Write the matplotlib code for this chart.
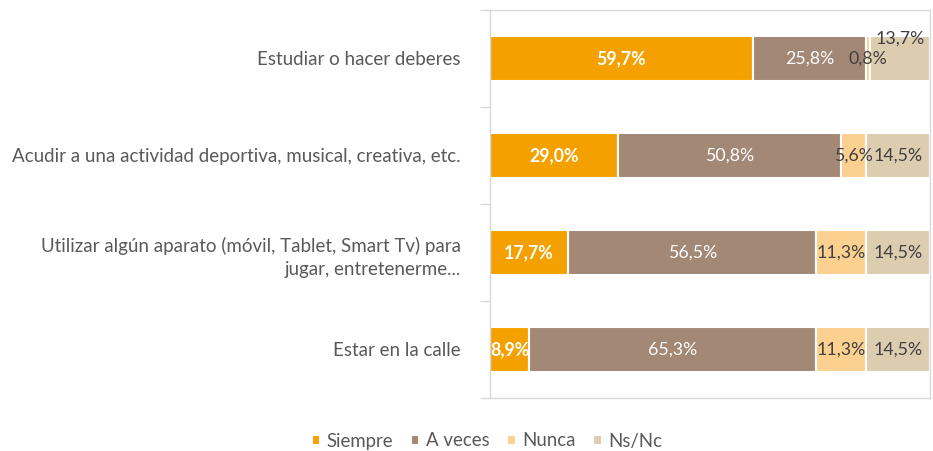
import matplotlib.pyplot as plt
import numpy as np

plt.rcParams['font.family'] = ['Lato', 'DejaVu Sans']

# datos de la encuesta (%)
categorias = [
    "Estudiar o hacer deberes",
    "Acudir a una actividad deportiva, musical, creativa, etc.",
    "Utilizar algún aparato (móvil, Tablet, Smart Tv) para\njugar, entretenerme...",
    "Estar en la calle",
]
series = ["Siempre", "A veces", "Nunca", "Ns/Nc"]
siempre = [59.7, 29.0, 17.7, 8.9]
a_veces = [25.8, 50.8, 56.5, 65.3]
nunca = [0.8, 5.6, 11.3, 11.3]
ns_nc = [13.7, 14.5, 14.5, 14.5]

colores = ["#F4A100", "#A38876", "#FCD08F", "#DDCDB0"]
color_texto = ["white", "white", "#404040", "#404040"]
negrita = ["bold", "normal", "normal", "normal"]

fig = plt.figure(figsize=(9.33, 4.51), dpi=100)
ax = fig.add_axes([490 / 933, 1 - 398 / 451, 440 / 933, 388 / 451])

y = np.arange(len(categorias))
izq = np.zeros(len(categorias))
for nombre, vals, col, ct, fw in zip(series, [siempre, a_veces, nunca, ns_nc],
                                     colores, color_texto, negrita):
    vals = np.array(vals)
    ax.barh(y, vals, left=izq, height=0.47, color=col,
            edgecolor="white", linewidth=1.5, label=nombre)
    for i, v in enumerate(vals):
        cx = izq[i] + v / 2
        cy = y[i]
        # etiqueta desplazada para que no se pise con la de 0,8%
        if nombre == "Ns/Nc" and i == 0:
            cy = y[i] - 0.21
        ax.text(cx, cy, f"{v:.1f}%".replace(".", ","), ha="center", va="center",
                color=ct, fontweight=fw, fontsize=12.8)
    izq += vals

ax.set_xlim(0, 100)
ax.set_ylim(3.5, -0.5)
ax.set_yticks(y)
ax.set_yticklabels(categorias, fontsize=13.5, color="#595959", linespacing=1.45)
ax.tick_params(axis="y", which="major", length=0, pad=21)
ax.set_yticks(np.arange(-0.5, 4, 1), minor=True)
ax.tick_params(axis="y", which="minor", length=7, color="#D9D9D9", width=1)
ax.set_xticks([])
for lado in ax.spines.values():
    lado.set_color("#D9D9D9")
    lado.set_linewidth(1)

fig.legend(loc="center", bbox_to_anchor=(487 / 933, 1 - 441 / 451), ncol=4,
           frameon=False, fontsize=13.4, handlelength=0.45, handleheight=0.45,
           columnspacing=0.95, handletextpad=0.35, labelcolor="#595959")

fig.savefig("out.png", dpi=100)
